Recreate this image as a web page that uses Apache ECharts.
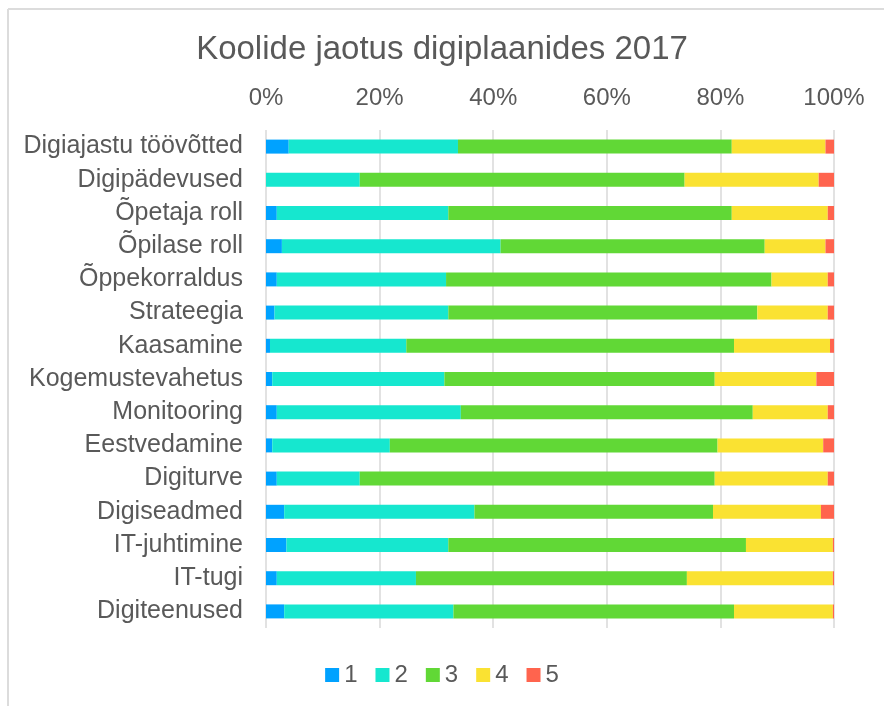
<!DOCTYPE html>
<html>
<head>
<meta charset="utf-8">
<script src="https://cdn.jsdelivr.net/npm/echarts@6/dist/echarts.min.js"></script>
<style>
  html, body { margin: 0; padding: 0; background: #fff; }
  #chart { width: 884px; height: 706px; }
</style>
</head>
<body>
<div id="chart"></div>
<script>
var categories = ['Digiajastu töövõtted', 'Digipädevused', 'Õpetaja roll', 'Õpilase roll', 'Õppekorraldus',
  'Strateegia', 'Kaasamine', 'Kogemustevahetus', 'Monitooring', 'Eestvedamine',
  'Digiturve', 'Digiseadmed', 'IT-juhtimine', 'IT-tugi', 'Digiteenused'];

var seriesNames = ['1', '2', '3', '4', '5'];
var level1 = [4.0, 0.0, 1.9, 2.8, 1.9, 1.5, 0.7, 1.1, 1.9, 1.1, 1.9, 3.2, 3.6, 1.9, 3.2];
var level2 = [29.8, 16.5, 30.2, 38.5, 29.8, 30.6, 24.0, 30.3, 32.4, 20.7, 14.6, 33.5, 28.5, 24.5, 29.8];
var level3 = [48.2, 57.2, 49.9, 46.5, 57.3, 54.4, 57.7, 47.6, 51.4, 57.7, 62.5, 42.0, 52.4, 47.7, 49.4];
var level4 = [16.5, 23.6, 16.9, 10.7, 9.9, 12.4, 16.9, 17.9, 13.2, 18.6, 19.9, 19.0, 15.3, 25.7, 17.4];
var level5 = [1.5, 2.7, 1.1, 1.5, 1.1, 1.1, 0.7, 3.1, 1.1, 1.9, 1.1, 2.3, 0.2, 0.2, 0.2];
var colors = ['#00a2ff', '#16e7cf', '#61d836', '#fae232', '#ff644e'];

var levels = [level1, level2, level3, level4, level5];
var font = 'Liberation Sans';
var textColor = '#595959';

var chart = echarts.init(document.getElementById('chart'));

var series = levels.map(function (vals, i) {
  return {
    name: seriesNames[i],
    type: 'bar',
    stack: 'total',
    barWidth: 14,
    itemStyle: { color: colors[i] },
    data: vals
  };
});

var option = {
  animation: false,
  title: {
    text: 'Koolide jaotus digiplaanides 2017',
    left: 'center',
    top: 28,
    textStyle: { fontFamily: font, fontSize: 33, fontWeight: 'normal', color: textColor }
  },
  legend: {
    data: seriesNames,
    bottom: 14,
    left: 'center',
    itemWidth: 14,
    itemHeight: 14,
    itemGap: 18,
    icon: 'rect',
    textStyle: { fontFamily: font, fontSize: 24, color: textColor }
  },
  grid: { left: 266, right: 50, top: 130, bottom: 78 },
  xAxis: {
    type: 'value',
    position: 'top',
    min: 0,
    max: 100,
    interval: 20,
    axisLine: { show: false },
    axisTick: { show: false },
    axisLabel: { formatter: '{value}%', fontFamily: font, fontSize: 24, color: textColor, margin: 20 },
    splitLine: { lineStyle: { color: '#d9d9d9', width: 1.5 } }
  },
  yAxis: {
    type: 'category',
    inverse: true,
    data: categories,
    axisLine: { show: false },
    axisTick: { show: false },
    axisLabel: { fontFamily: font, fontSize: 25, color: textColor, margin: 23 }
  },
  graphic: [
    { type: 'line', shape: { x1: 8, y1: 9, x2: 8, y2: 706 }, style: { stroke: '#dcdcdc', lineWidth: 2 } },
    { type: 'line', shape: { x1: 8, y1: 9, x2: 884, y2: 9 }, style: { stroke: '#dcdcdc', lineWidth: 2 } }
  ],
  series: series
};

chart.setOption(option);
</script>
</body>
</html>
